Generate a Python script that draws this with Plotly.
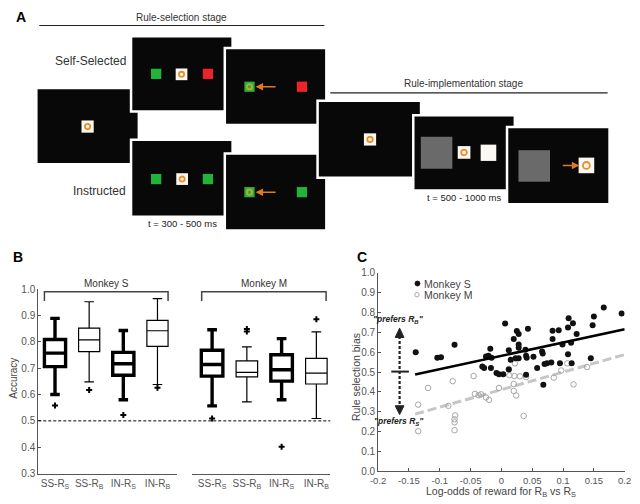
import plotly.graph_objects as go

W, H = 640, 504
FONT = "Liberation Sans, Arial, sans-serif"


def px(x):
    return x / W


def py(y):
    return 1 - y / H


# ---------------- Panel B data (box-plot summary statistics) ----------------
group_labels = ["SS-R<sub>S</sub>", "SS-R<sub>B</sub>", "IN-R<sub>S</sub>", "IN-R<sub>B</sub>"]
thick_box = [True, False, True, False]

S_q1 = [0.706, 0.763, 0.673, 0.783]
S_median = [0.757, 0.807, 0.717, 0.842]
S_q3 = [0.809, 0.852, 0.760, 0.881]
S_low = [0.600, 0.648, 0.580, 0.638]
S_high = [0.889, 0.952, 0.843, 0.964]
S_out_group = [0, 1, 2, 3]
S_out_value = [0.558, 0.617, 0.522, 0.626]

M_q1 = [0.670, 0.667, 0.651, 0.640]
M_median = [0.714, 0.684, 0.694, 0.681]
M_q3 = [0.768, 0.728, 0.751, 0.737]
M_low = [0.557, 0.572, 0.580, 0.509]
M_high = [0.846, 0.781, 0.812, 0.838]
M_out_group = [0, 1, 1, 2, 3]
M_out_value = [0.509, 0.849, 0.839, 0.402, 0.886]

# ---------------- Panel C data ----------------
S_logodds = [-0.139, -0.104, -0.098, -0.076, -0.031, -0.028, -0.025, -0.021, -0.018, -0.017,
             -0.016, -0.008, -0.004, 0.003, 0.006, 0.012, 0.012, 0.015, 0.020, 0.023,
             0.025, 0.028, 0.028, 0.028, 0.028, 0.039, 0.040, 0.040, 0.041, 0.043,
             0.052, 0.058, 0.066, 0.067, 0.068, 0.070, 0.074, 0.081, 0.083, 0.083,
             0.093, 0.095, 0.099, 0.108, 0.108, 0.109, 0.113, 0.114, 0.116, 0.122,
             0.145, 0.148, 0.150, 0.166, 0.195]
S_bias = [0.600, 0.572, 0.575, 0.637, 0.528, 0.520, 0.578, 0.582, 0.617, 0.520,
          0.572, 0.495, 0.489, 0.489, 0.745, 0.513, 0.610, 0.562, 0.667, 0.569,
          0.707, 0.692, 0.639, 0.623, 0.569, 0.613, 0.582, 0.487, 0.572, 0.718,
          0.577, 0.521, 0.603, 0.593, 0.436, 0.541, 0.544, 0.548, 0.708, 0.667,
          0.710, 0.544, 0.639, 0.725, 0.590, 0.771, 0.648, 0.544, 0.746, 0.692,
          0.569, 0.736, 0.780, 0.825, 0.795]

M_logodds = [-0.135, -0.135, -0.119, -0.086, -0.079, -0.075, -0.076, -0.076, -0.076, -0.045,
             -0.043, -0.037, -0.033, -0.025, -0.020, -0.004, 0.012, 0.013, 0.020, 0.021,
             0.020, 0.022, 0.024, 0.030, 0.036, 0.040, 0.085, 0.097, 0.107, 0.117, 0.139]
M_bias = [0.336, 0.202, 0.420, 0.330, 0.454, 0.282, 0.262, 0.247, 0.207, 0.480,
          0.390, 0.383, 0.388, 0.372, 0.360, 0.420, 0.516, 0.484, 0.440, 0.480,
          0.405, 0.544, 0.382, 0.479, 0.279, 0.475, 0.472, 0.508, 0.544, 0.438, 0.525]

fit_x = [-0.140, 0.200]
fit_S = [0.488, 0.716]
fit_M = [0.288, 0.588]

xticks_C = [-0.2, -0.15, -0.1, -0.05, 0, 0.05, 0.1, 0.15, 0.2]
xticklabels_C = ["-0.2", "-0.15", "-0.1", "-0.05", "0", "0.05", "0.1", "0.15", "0.2"]

fig = go.Figure()

# ---------------- Panel B traces ----------------
for axis, q1, med, q3, lo, hi in [("x", S_q1, S_median, S_q3, S_low, S_high),
                                  ("x2", M_q1, M_median, M_q3, M_low, M_high)]:
    for i in range(4):
        lw = 3.4 if thick_box[i] else 1.2
        fig.add_trace(go.Box(
            x=[i], q1=[q1[i]], median=[med[i]], q3=[q3[i]],
            lowerfence=[lo[i]], upperfence=[hi[i]],
            width=0.62, whiskerwidth=0.45,
            line=dict(color="black", width=lw), fillcolor="white",
            xaxis=axis, yaxis="y", showlegend=False, hoverinfo="skip"))

fig.add_trace(go.Scatter(x=S_out_group, y=S_out_value, mode="markers", xaxis="x", yaxis="y",
                         marker=dict(symbol="cross", size=5, color="black"), showlegend=False))
fig.add_trace(go.Scatter(x=M_out_group, y=M_out_value, mode="markers", xaxis="x2", yaxis="y",
                         marker=dict(symbol="cross", size=5, color="black"), showlegend=False))

# ---------------- Panel C traces ----------------
fig.add_trace(go.Scatter(x=fit_x, y=fit_M, mode="lines", xaxis="x3", yaxis="y3",
                         line=dict(color="#c6c6c6", width=3, dash="9px,4px"), showlegend=False))
fig.add_trace(go.Scatter(x=M_logodds, y=M_bias, mode="markers", xaxis="x3", yaxis="y3",
                         marker=dict(symbol="circle-open", size=5.5, color="#a6a6a6",
                                     line=dict(width=1)), showlegend=False))
fig.add_trace(go.Scatter(x=S_logodds, y=S_bias, mode="markers", xaxis="x3", yaxis="y3",
                         marker=dict(symbol="circle", size=6, color="#111111"), showlegend=False))
fig.add_trace(go.Scatter(x=fit_x, y=fit_S, mode="lines", xaxis="x3", yaxis="y3",
                         line=dict(color="black", width=2.5), showlegend=False))

axis_common = dict(showgrid=False, zeroline=False, showline=True, linecolor="#555555",
                   linewidth=1, tickfont=dict(family=FONT, size=10, color="#555555"))

fig.update_layout(
    width=W, height=H, margin=dict(l=0, r=0, t=0, b=0),
    paper_bgcolor="white", plot_bgcolor="rgba(0,0,0,0)", showlegend=False,
    xaxis=dict(domain=[px(31), px(173)], range=[-0.49, 3.57], anchor="y",
               tickvals=[0, 1, 2, 3], ticktext=group_labels, ticks="", **axis_common),
    xaxis2=dict(domain=[px(188), px(330)], range=[-0.59, 3.40], anchor="y",
                tickvals=[0, 1, 2, 3], ticktext=group_labels, ticks="", **axis_common),
    yaxis=dict(domain=[py(479), py(290)], range=[0.3, 1.0], anchor="x", dtick=0.1,
               tickformat=".1f", ticks="inside", ticklen=3, tickcolor="#555555", **axis_common),
    xaxis3=dict(domain=[px(379), px(631.5)], range=[-0.2, 0.2], anchor="y3",
                tickvals=xticks_C, ticktext=xticklabels_C, ticks="inside", ticklen=3,
                tickcolor="#555555", **axis_common),
    yaxis3=dict(domain=[py(476.7), py(273.3)], range=[0, 1], anchor="x3", dtick=0.1,
                tickformat=".1f", ticks="inside", ticklen=3, tickcolor="#555555", **axis_common),
)
fig.update_xaxes(selector=dict(anchor="y3"), tickfont=dict(family=FONT, size=9.5, color="#555555"))

shapes = []
annotations = []


def text(x, y, s, size=10, color="#333333", xanchor="center", angle=0, bold=False):
    if bold:
        s = "<b>" + s + "</b>"
    annotations.append(dict(x=px(x), y=py(y), xref="paper", yref="paper", text=s,
                            showarrow=False, xanchor=xanchor, yanchor="middle", textangle=angle,
                            font=dict(family=FONT, size=size, color=color)))


def rect(x0, y0, x1, y1, fill, line_color=None, lw=0):
    shapes.append(dict(type="rect", xref="paper", yref="paper",
                       x0=px(x0), x1=px(x1), y0=py(y1), y1=py(y0),
                       fillcolor=fill, line=dict(color=line_color or fill, width=lw)))


def line(x0, y0, x1, y1, color="black", width=1, dash="solid"):
    shapes.append(dict(type="line", xref="paper", yref="paper", x0=px(x0), y0=py(y0),
                       x1=px(x1), y1=py(y1), line=dict(color=color, width=width, dash=dash)))


def ring(cx, cy, r=2.8, color="#e8902a"):
    shapes.append(dict(type="circle", xref="paper", yref="paper",
                       x0=px(cx - r), x1=px(cx + r), y0=py(cy + r), y1=py(cy - r),
                       line=dict(color=color, width=1.8)))


def square(cx, cy, s, fill):
    rect(cx - s / 2, cy - s / 2, cx + s / 2, cy + s / 2, fill)


def fixation(cx, cy, s=12.5):
    square(cx, cy, s, "#fbf7f0")
    ring(cx, cy, r=s * 0.22)


def arrow(hx, hy, tx, ty, color="#e07a22"):
    annotations.append(dict(x=px(hx), y=py(hy), xref="paper", yref="paper", text="",
                            showarrow=True, ax=tx - hx, ay=ty - hy, axref="pixel", ayref="pixel",
                            arrowhead=2, arrowsize=1, arrowwidth=1.5, arrowcolor=color))


BLACK = "#080808"
GREEN = "#22b33a"
RED = "#ee2229"
GRAY = "#6a6a6a"
WB = 2.5

# ---------------- Panel A (schematic) ----------------
text(13, 11, "A", size=14, color="black", bold=True)
text(178, 12, "Rule-selection stage", size=10)
line(32, 20, 324, 20, color="#222222", width=1.2)
text(122.5, 56, "Self-Selected", size=12, xanchor="right")
text(122.5, 189, "Instructed", size=12, xanchor="right")

rect(29, 84, 134, 162, BLACK, "white", WB)          # fixation screen
rect(126, 31, 230, 108, BLACK, "white", WB)         # self-selected cue screen
rect(126, 137, 230, 216, BLACK, "white", WB)        # instructed cue screen
rect(222, 43, 326, 122, BLACK, "white", WB)         # self-selected choice
rect(222, 151, 326, 230, BLACK, "white", WB)        # instructed choice
rect(317, 97, 423, 176, BLACK, "white", WB)         # implementation fixation
rect(415, 112, 519, 189, BLACK, "white", WB)        # implementation stimuli
rect(511, 124, 616, 203, BLACK, "white", WB)        # implementation response

fixation(81.5, 123.5, 12.5)
# self-selected cue
square(151.7, 69.5, 10.5, GREEN)
fixation(177.7, 70, 12)
square(204.7, 69.5, 10.5, RED)
# self-selected choice
square(247.3, 82.7, 10.5, GREEN)
ring(247.3, 82.7, 2.7, "#b8a83a")
arrow(253.5, 82.7, 275, 82.7)
square(301, 82.7, 10.5, RED)
# instructed cue
square(151.7, 177.3, 10.5, GREEN)
fixation(178.3, 177.3, 12)
square(204.7, 177.3, 10.5, GREEN)
# instructed choice
square(247.3, 190.7, 10.5, GREEN)
ring(247.3, 190.7, 2.7, "#b8a83a")
arrow(253.5, 190.7, 275, 190.7)
square(301, 190.7, 10.5, GREEN)
text(178.3, 222.5, "t = 300 - 500 ms", size=9.5, color="#222222")

text(466.7, 79, "Rule-implementation stage", size=10)
line(330, 89, 614, 89, color="#222222", width=1.2)
fixation(370.7, 136.7, 12.5)
rect(422.7, 134, 455, 166.7, GRAY)
fixation(467, 150, 13)
rect(484, 142, 500, 158.7, "#fbf8f2")
rect(522.7, 147.7, 555, 180, GRAY)
fixation(592.3, 163.3, 16)
arrow(585, 163.3, 567, 163.3)
text(467.3, 196.5, "t = 500 - 1000 ms", size=9.5, color="#222222")

# ---------------- Panel B decorations ----------------
text(10, 257, "B", size=14, color="black", bold=True)
text(6, 381, "Accuracy", size=10, color="#444444", angle=-90)
shapes.append(dict(type="line", xref="paper", yref="y", x0=px(31), x1=px(330), y0=0.5, y1=0.5,
                   line=dict(color="black", width=1, dash="3px,2px")))
for xr, x0, x1, xc, name in [("x", -0.31, 3.31, 1.5, "Monkey S"), ("x2", -0.30, 3.28, 1.5, "Monkey M")]:
    shapes.append(dict(type="path", xref=xr, yref="y",
                       path=f"M {x0},0.955 L {x0},0.99 L {x1},0.99 L {x1},0.955",
                       line=dict(color="#444444", width=1.5)))
    annotations.append(dict(x=xc, y=py(284.5), xref=xr, yref="paper", text=name, showarrow=False,
                            yanchor="middle", font=dict(family=FONT, size=10, color="#333333")))

# ---------------- Panel C decorations ----------------
text(362, 257, "C", size=14, color="black", bold=True)
text(356.5, 380, "Rule selection bias", size=10.5, color="#444444", angle=-90)
text(505, 497.5, "Log-odds of reward for R<sub>B</sub> vs R<sub>S</sub>", size=10.5, color="#444444")
# legend
shapes.append(dict(type="circle", xref="paper", yref="paper", x0=px(416.8), x1=px(421.8),
                   y0=py(286.8), y1=py(281.8), fillcolor="#111111", line=dict(color="#111111", width=1)))
shapes.append(dict(type="circle", xref="paper", yref="paper", x0=px(416.5), x1=px(421),
                   y0=py(298), y1=py(293.5), line=dict(color="#a6a6a6", width=1)))
text(423.5, 284.3, "Monkey S", size=10.5, color="#444444", xanchor="left")
text(423.5, 295.7, "Monkey M", size=10.5, color="#444444", xanchor="left")
# preference arrow
text(400, 320.7, '<b><i>"prefers R<sub>B</sub>"</i></b>', size=8.5, color="#222222")
text(400, 425.7, '<b><i>"prefers R<sub>S</sub>"</i></b>', size=8.5, color="#222222")
line(401, 338, 401, 411, color="#222222", width=2.2, dash="3px,2px")
shapes.append(dict(type="path", xref="paper", yref="paper",
                   path=f"M {px(401)},{py(330)} L {px(396.5)},{py(339.5)} L {px(405.5)},{py(339.5)} Z",
                   fillcolor="#222222", line=dict(color="#222222", width=1)))
shapes.append(dict(type="path", xref="paper", yref="paper",
                   path=f"M {px(401)},{py(418.5)} L {px(396.5)},{py(409.5)} L {px(405.5)},{py(409.5)} Z",
                   fillcolor="#222222", line=dict(color="#222222", width=1)))
line(392.5, 374.5, 410.5, 374.5, color="#222222", width=2)

fig.update_layout(shapes=shapes, annotations=annotations)
fig.write_html("out.html", config={"displayModeBar": False},
               post_script="document.body.style.margin='0px';")
